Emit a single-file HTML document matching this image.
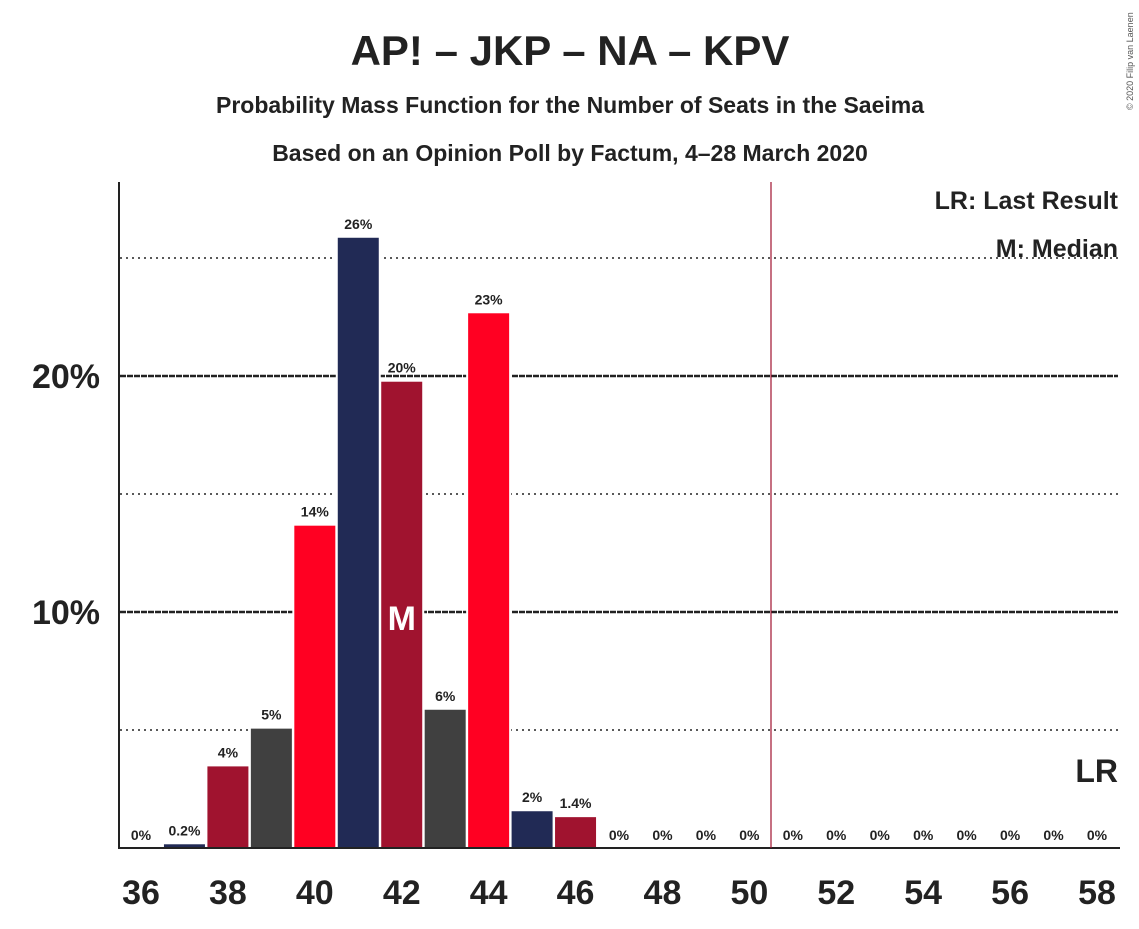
<!DOCTYPE html>
<html><head><meta charset="utf-8"><style>
body{margin:0;background:#fff;font-family:"Liberation Sans",sans-serif}
svg text{font-family:"Liberation Sans",sans-serif}
</style></head><body>
<svg id="c" width="1139" height="924" xmlns="http://www.w3.org/2000/svg">
<text x="570" y="65" text-anchor="middle" font-size="42" font-weight="bold" fill="#222">AP! – JKP – NA – KPV</text>
<text x="570" y="113" text-anchor="middle" font-size="23" font-weight="bold" fill="#222">Probability Mass Function for the Number of Seats in the Saeima</text>
<text x="570" y="161" text-anchor="middle" font-size="23" font-weight="bold" fill="#222">Based on an Opinion Poll by Factum, 4–28 March 2020</text>
<text x="1133" y="110" font-size="9" fill="#555" transform="rotate(-90 1133 110)">© 2020 Filip van Laenen</text>
<g id="grid"></g><g id="bars"></g><g id="labels"></g>
<line x1="119" y1="182" x2="119" y2="849" stroke="#222" stroke-width="2"/>
<line x1="118" y1="848" x2="1120" y2="848" stroke="#222" stroke-width="2"/>
<line x1="771" y1="182" x2="771" y2="848" stroke="#a0132f" stroke-width="1.2"/>
<text x="1118" y="209" text-anchor="end" font-size="25" font-weight="bold" fill="#222">LR: Last Result</text>
<text x="1118" y="257" text-anchor="end" font-size="25" font-weight="bold" fill="#222">M: Median</text>
<text x="1118" y="782" text-anchor="end" font-size="32" font-weight="bold" fill="#222">LR</text>
</svg>
<script>
const seats=[36,37,38,39,40,41,42,43,44,45,46,47,48,49,50,51,52,53,54,55,56,57,58];
const probs=[0,0.2,3.5,5.1,13.7,25.9,19.8,5.9,22.7,1.6,1.35,0,0,0,0,0,0,0,0,0,0,0,0];
const probLabels=["0%","0.2%","4%","5%","14%","26%","20%","6%","23%","2%","1.4%","0%","0%","0%","0%","0%","0%","0%","0%","0%","0%","0%","0%"];
const yTicks=[10,20];
const yDotted=[5,15,25];
const xTickLabels=[36,38,40,42,44,46,48,50,52,54,56,58];
const medianSeat=42;
const colors=["#212a55","#a0132f","#404040","#ff0022"];
const NS="http://www.w3.org/2000/svg";
const x=s=>141+(s-36)*(1097-141)/22;
const y=v=>848-v*23.6;
function mk(tag,attrs,parent,txt){const e=document.createElementNS(NS,tag);for(const k in attrs)e.setAttribute(k,attrs[k]);if(txt!==undefined)e.textContent=txt;document.getElementById(parent)?document.getElementById(parent).appendChild(e):document.getElementById('c').appendChild(e);return e;}
yDotted.forEach(v=>{const l=mk('line',{x1:120,x2:1118,y1:y(v),y2:y(v),stroke:'#222','stroke-width':1.5,'stroke-dasharray':'2,4'},'grid');

});
yTicks.forEach(v=>{const l=mk('line',{x1:120,x2:1118,y1:y(v),y2:y(v),stroke:'#222','stroke-width':2.5,'stroke-dasharray':'6,1'},'grid');


const t=mk('text',{x:100,y:y(v)+12,'text-anchor':'end','font-size':34,'font-weight':'bold',fill:'#222'},'labels',v+'%');

});
seats.forEach((s,i)=>{const v=probs[i];
if(v>0){const r=mk('rect',{x:x(s)-21.5,y:y(v),width:43,height:848-y(v),fill:colors[(s-37+400)%4],stroke:'#fff','stroke-width':2},'bars');

}
const t=mk('text',{x:x(s),y:y(v)-8,'text-anchor':'middle','font-size':14,'font-weight':'bold',fill:'#222'},'labels',probLabels[i]);

});
const mi=seats.indexOf(medianSeat);
const m=mk('text',{x:x(medianSeat),y:630,'text-anchor':'middle','font-size':34,'font-weight':'bold',fill:'#fff'},'labels','M');


xTickLabels.forEach(s=>{const t=mk('text',{x:x(s),y:904,'text-anchor':'middle','font-size':34,'font-weight':'bold',fill:'#222'},'labels',s);

});
</script>
</body></html>
